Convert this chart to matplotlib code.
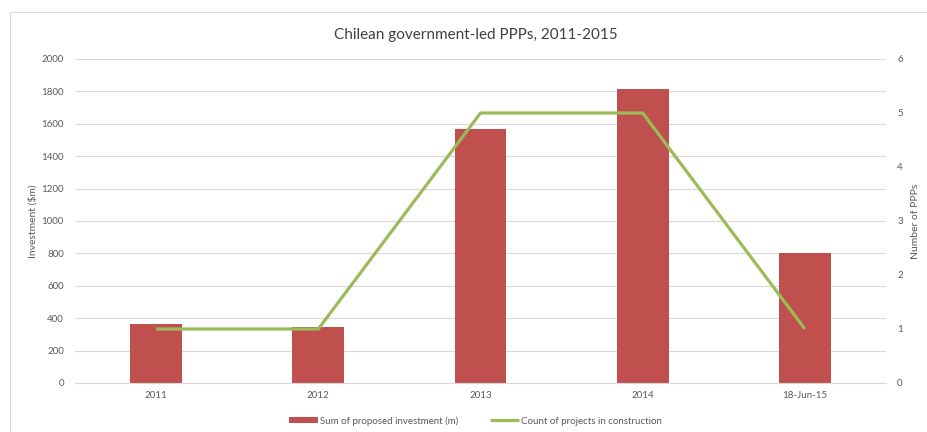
import matplotlib
matplotlib.use("Agg")
import matplotlib.pyplot as plt
from matplotlib.patches import Rectangle
import numpy as np

categories = ["2011", "2012", "2013", "2014", "18-Jun-15"]
investment = [365, 345, 1570, 1815, 800]
projects = [1, 1, 5, 5, 1]

plt.rcParams['font.family'] = ['Lato', 'DejaVu Sans']

fig = plt.figure(figsize=(9.27, 4.32), dpi=100)
ax = fig.add_axes([75/927, 49/432, 811/927, 324/432])
ax2 = ax.twinx()

x = np.arange(len(categories))
bars = ax.bar(x, investment, width=0.32, color="#C0504D", zorder=2,
              label="Sum of proposed investment (m)")
line, = ax2.plot(x, projects, color="#9BBB59", lw=2.3, zorder=3,
                 label="Count of projects in construction", solid_capstyle='butt')

ax.set_xlim(-0.5, len(categories) - 0.5)
ax.set_ylim(0, 2000)
ax.set_yticks(range(0, 2001, 200))
ax2.set_ylim(0, 6)
ax2.set_yticks(range(0, 7))
ax.set_xticks(x)
ax.set_xticklabels(categories)

ax.grid(axis='y', color="#D9D9D9", lw=0.8, zorder=0)
ax.set_axisbelow(True)
for a in (ax, ax2):
    for s in a.spines.values():
        s.set_visible(False)
    a.tick_params(length=0, labelsize=7, colors="#595959", pad=8)
ax.spines['bottom'].set_visible(True)
ax.spines['bottom'].set_color("#D9D9D9")
ax.tick_params(axis='x', pad=6)

ax.set_ylabel("Investment ($m)", fontsize=7.5, color="#595959", labelpad=3)
ax2.set_ylabel("Number of PPPs", fontsize=7.5, color="#595959", labelpad=6)

fig.text(0.513, 0.92, "Chilean government-led PPPs, 2011-2015", ha='center', va='center',
         fontsize=11, color="#404040")

fig.legend([bars, line], ["Sum of proposed investment (m)", "Count of projects in construction"],
           loc='center', bbox_to_anchor=(0.513, 0.026), ncol=2, frameon=False,
           fontsize=7, labelcolor="#595959", handlelength=3.0, handleheight=0.6,
           columnspacing=3.2, handletextpad=0.2)

fig.patches.append(Rectangle((10/927, -0.1), 1.1, (432-12)/432 + 0.1, transform=fig.transFigure,
                             fill=False, edgecolor="#D9D9D9", lw=0.8, zorder=-1))

fig.savefig("out.png", dpi=100)
